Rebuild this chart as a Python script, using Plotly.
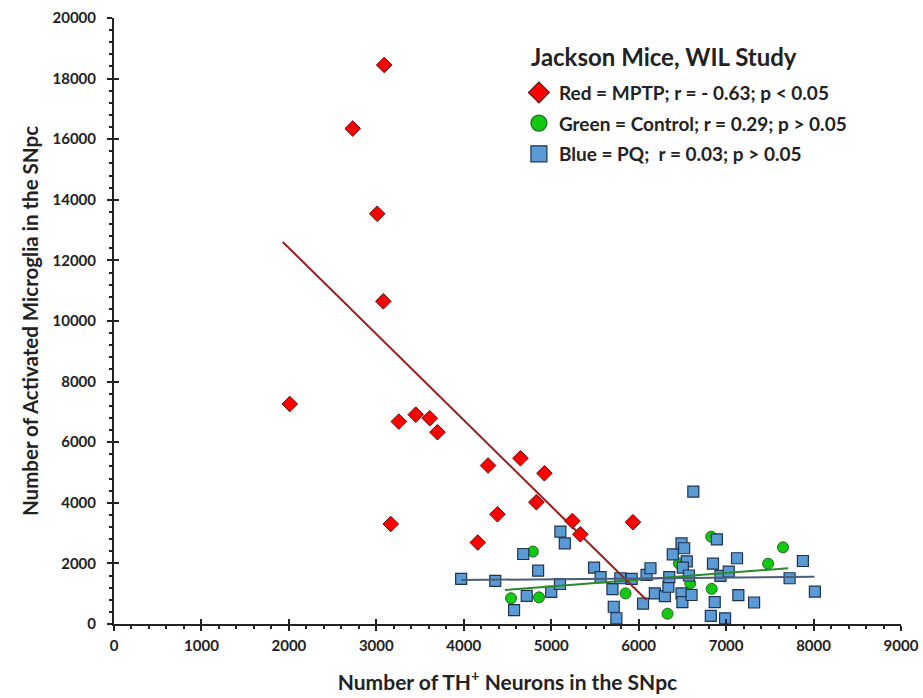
import plotly.graph_objects as go

# ---- data ----
mptp_x = [3090, 2730, 3010, 3080, 2010, 3165, 3257, 3451, 3611, 3699, 4278, 4385, 4160, 4648, 4922, 4830, 5242, 5333, 5935]
mptp_y = [18450, 16350, 13540, 10650, 7260, 3300, 6680, 6910, 6790, 6330, 5230, 3620, 2690, 5470, 4975, 4020, 3400, 2960, 3360]

ctrl_x = [4790, 4540, 4860, 5850, 6330, 6460, 6590, 6830, 6835, 7650, 7480]
ctrl_y = [2390, 850, 880, 1010, 340, 2000, 1340, 2880, 1160, 2530, 1990]

pq_x = [3970, 4360, 4680, 4850, 4720, 5000, 5100, 4575, 5105, 5155, 5490, 5565, 5700, 5715, 5745,
        5790, 5920, 6050, 6090, 6135, 6185, 6300, 6340, 6350, 6390, 6490, 6520, 6550, 6505, 6575,
        6490, 6500, 6605, 6625, 6850, 6870, 6825, 6988, 6895, 6935, 7030, 7125, 7140, 7320, 7726,
        7878, 8015]
pq_y = [1490, 1420, 2310, 1760, 930, 1060, 1320, 460, 3050, 2660, 1860, 1550, 1150, 570, 190,
        1510, 1490, 670, 1620, 1840, 1010, 920, 1230, 1550, 2300, 2660, 2500, 2070, 1860, 1600,
        1010, 720, 957, 4370, 1990, 725, 270, 187, 2790, 1590, 1730, 2170, 950, 710, 1510,
        2080, 1070]

# regression line end points
mptp_fit_x = [1930, 6090]
mptp_fit_y = [12610, 790]
ctrl_fit_x = [4470, 7710]
ctrl_fit_y = [1120, 1840]
pq_fit_x = [3970, 8010]
pq_fit_y = [1450, 1560]

legend_labels = ["Red = MPTP; r = - 0.63; p < 0.05",
                 "Green = Control; r = 0.29; p > 0.05",
                 "Blue = PQ;  r = 0.03; p > 0.05"]
legend_title = "Jackson Mice, WIL Study"
x_title = "Number of TH<sup>+</sup> Neurons in the SNpc"
y_title = "Number of Activated Microglia in the SNpc"

RED, RED_LINE = "#ff0000", "#9b1c1c"
GREEN, GREEN_EDGE = "#12c912", "#1d6b1d"
BLUE, BLUE_EDGE = "#5b9bd5", "#1f3350"
FONT = "Lato"
INK = "#222"

fig = go.Figure()

# lines + points
fig.add_trace(go.Scatter(x=pq_fit_x, y=pq_fit_y, mode="lines", xaxis="x2", yaxis="y2",
                         line=dict(color="#4a5d7a", width=2), showlegend=False))
fig.add_trace(go.Scatter(x=ctrl_x, y=ctrl_y, mode="markers", showlegend=False,
                         marker=dict(symbol="circle", size=11, color=GREEN,
                                     line=dict(color=GREEN_EDGE, width=1))))
fig.add_trace(go.Scatter(x=pq_x, y=pq_y, mode="markers", showlegend=False,
                         marker=dict(symbol="square", size=11, color=BLUE,
                                     line=dict(color=BLUE_EDGE, width=1.2))))
fig.add_trace(go.Scatter(x=ctrl_fit_x, y=ctrl_fit_y, mode="lines",
                         line=dict(color="#2a8a2a", width=2), showlegend=False))
fig.add_trace(go.Scatter(x=mptp_fit_x, y=mptp_fit_y, mode="lines",
                         line=dict(color=RED_LINE, width=2), showlegend=False))
fig.add_trace(go.Scatter(x=mptp_x, y=mptp_y, mode="markers", showlegend=False,
                         marker=dict(symbol="diamond", size=12, color=RED,
                                     line=dict(color="#5a1010", width=1))))

# legend-only entries (larger symbols like the original key)
for lab, sym, col, edge, grp in [
        (legend_labels[0], "diamond", RED, "#5a1010", "a"),
        (legend_labels[1], "circle", GREEN, GREEN_EDGE, "b"),
        (legend_labels[2], "square", BLUE, BLUE_EDGE, "c")]:
    fig.add_trace(go.Scatter(x=[None], y=[None], mode="markers", name=lab,
                             legendgroup=grp,
                             marker=dict(symbol=sym, size=16, color=col,
                                         line=dict(color=edge, width=1.2))))

axis_common = dict(showgrid=False, zeroline=False, showline=True, automargin=False,
                   linecolor=INK, linewidth=2, ticks="outside",
                   tickcolor=INK, tickwidth=2, ticklen=5, tickformat="d",
                   tickfont=dict(family=FONT, size=15, color=INK, weight="bold"))

fig.update_layout(
    width=923, height=698,
    margin=dict(l=114, r=21.5, t=18, b=74),
    paper_bgcolor="white", plot_bgcolor="white",
    font=dict(family=FONT, color=INK),
    xaxis=dict(range=[0, 9000], dtick=1000, tick0=0, ticklabelstandoff=2,
               minor=dict(dtick=200, ticks="outside", ticklen=3, tickwidth=1.5, tickcolor=INK),
               title=dict(text=x_title, standoff=22,
                          font=dict(family=FONT, size=21, color=INK, weight="bold")),
               **axis_common),
    yaxis=dict(range=[0, 20000], dtick=2000, tick0=0, ticklabelstandoff=8,
               minor=dict(dtick=400, ticks="outside", ticklen=3, tickwidth=1.5, tickcolor=INK),
               title=dict(text=y_title, standoff=8,
                          font=dict(family=FONT, size=20.5, color=INK, weight="bold")),
               **axis_common),
    xaxis2=dict(overlaying="x", matches="x", range=[0, 9000], dtick=1000, tick0=0,
                ticks="inside", ticklen=5, tickwidth=2, tickcolor=INK, automargin=False,
                showticklabels=False, showgrid=False, zeroline=False, showline=False,
                side="bottom", anchor="y2"),
    yaxis2=dict(overlaying="y", matches="y", range=[0, 20000], dtick=2000, tick0=0,
                ticks="inside", ticklen=5, tickwidth=2, tickcolor=INK, automargin=False,
                showticklabels=False, showgrid=False, zeroline=False, showline=False,
                side="left", anchor="x2"),
    showlegend=True,
    legend=dict(x=0.5145, y=0.9083, xanchor="left", yanchor="top",
                bgcolor="rgba(0,0,0,0)", tracegroupgap=3,
                font=dict(family=FONT, size=19, color=INK, weight="bold")),
    annotations=[dict(text="<b>" + legend_title + "</b>", xref="paper", yref="paper",
                      x=0.527, y=0.937, xanchor="left", yanchor="middle", showarrow=False,
                      font=dict(family=FONT, size=24, color=INK))],
)

fig.write_html("out.html")
